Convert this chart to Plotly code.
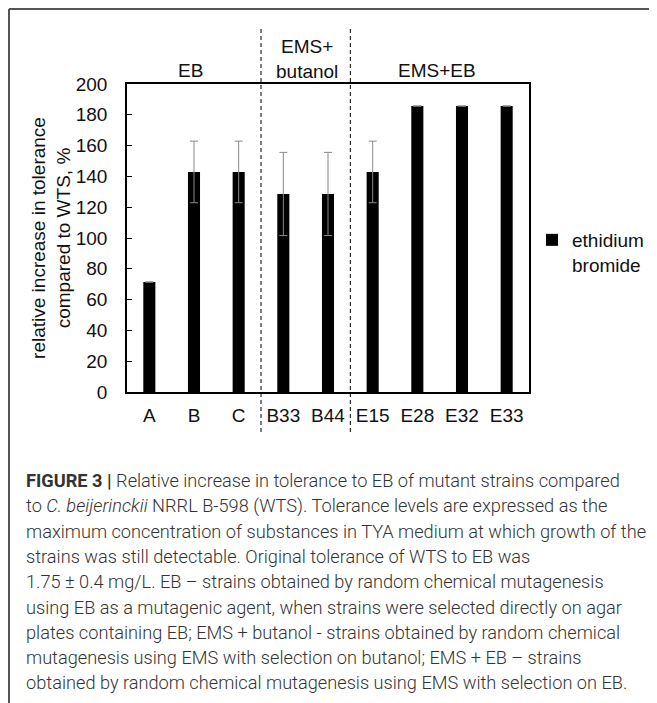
import plotly.graph_objects as go

categories = ["A", "B", "C", "B33", "B44", "E15", "E28", "E32", "E33"]
values = [71.4, 142.9, 142.9, 128.6, 128.6, 142.9, 185.7, 185.7, 185.7]
errors = [0, 20, 20, 27, 27, 20, 0, 0, 0]
series_name = "ethidium<br>bromide"
y_ticks = [0, 20, 40, 60, 80, 100, 120, 140, 160, 180, 200]
group_labels = ["EB", "EMS+<br>butanol", "EMS+EB"]
y_title = "relative increase in tolerance<br>compared to WTS, %"
caption_lines = [
    "<b>FIGURE 3 |</b> Relative increase in tolerance to EB of mutant strains compared",
    "to <i>C. beijerinckii</i> NRRL B-598 (WTS). Tolerance levels are expressed as the",
    "maximum concentration of substances in TYA medium at which growth of the",
    "strains was still detectable. Original tolerance of WTS to EB was",
    "1.75 \u00b1 0.4 mg/L. EB \u2013 strains obtained by random chemical mutagenesis",
    "using EB as a mutagenic agent, when strains were selected directly on agar",
    "plates containing EB; EMS + butanol - strains obtained by random chemical",
    "mutagenesis using EMS with selection on butanol; EMS + EB \u2013 strains",
    "obtained by random chemical mutagenesis using EMS with selection on EB.",
]

OFF = 8  # browser body margin
W, H = 657 - OFF, 703 - OFF
L, R, T, B = 127 - OFF, 529 - OFF, 84 - OFF, 392 - OFF


def px(x):
    return (x - OFF - L) / (R - L)


def py(y):
    return (B - (y - OFF)) / (B - T)


FONT = "Liberation Sans, Arial, sans-serif"
TXT = "#111"

fig = go.Figure()
fig.add_trace(go.Bar(
    x=categories, y=values, name=series_name,
    marker=dict(color="black", line=dict(width=0)),
    error_y=dict(type="data", array=errors, visible=True,
                 color="#8a8a8a", thickness=1, width=4),
    showlegend=True,
))

fig.update_layout(
    width=W, height=H,
    margin=dict(l=L, r=W - R, t=T, b=H - B, autoexpand=False),
    paper_bgcolor="white", plot_bgcolor="white",
    font=dict(family=FONT, size=19, color=TXT),
    bargap=0.73,
    showlegend=True,
    legend=dict(x=px(532), y=py(221), xanchor="left", yanchor="top",
                font=dict(size=19, family=FONT, color=TXT),
                valign="top", bgcolor="rgba(0,0,0,0)"),
)
fig.update_xaxes(
    type="category", range=[-0.5, 8.5],
    showline=True, mirror=True, linecolor="black", linewidth=1.5,
    ticks="", showgrid=False, ticklabelstandoff=5,
    tickfont=dict(size=19, family=FONT, color=TXT),
)
fig.update_yaxes(
    range=[0, 200], tickvals=y_ticks,
    showline=True, mirror=True, linecolor="black", linewidth=1.5,
    ticks="inside", ticklen=5, tickcolor="black", tickwidth=1, showgrid=False,
    ticklabelstandoff=14, zeroline=False,
    tickfont=dict(size=19, family=FONT, color=TXT),
    title=dict(text=y_title, font=dict(size=19, family=FONT, color=TXT), standoff=0),
)

# Group separators
for xb in [2.5, 4.5]:
    fig.add_shape(type="line", xref="x", yref="paper", x0=xb, x1=xb,
                  y0=py(432), y1=py(27),
                  line=dict(color="black", width=1, dash="4px,3px"))

# Group labels
group_pos = [(190, 70), (307, 59), (437, 70)]
for lab, (gx, gy) in zip(group_labels, group_pos):
    fig.add_annotation(text=lab, xref="paper", yref="paper", x=px(gx), y=py(gy),
                       xanchor="center", yanchor="middle", showarrow=False,
                       font=dict(size=19, family=FONT, color=TXT))

# Outer frame (top and left)
fig.add_shape(type="line", xref="paper", yref="paper", x0=px(9), x1=px(670),
              y0=py(9), y1=py(9), line=dict(color="#555", width=2))
fig.add_shape(type="line", xref="paper", yref="paper", x0=px(9), x1=px(9),
              y0=py(9), y1=py(720), line=dict(color="#555", width=2))

# Caption
for i, line in enumerate(caption_lines):
    fig.add_annotation(text=line, xref="paper", yref="paper",
                       x=px(24), y=py(481 + 25.2 * i),
                       xanchor="left", yanchor="middle", showarrow=False,
                       font=dict(size=18.2, family="Roboto, Liberation Sans, sans-serif",
                                 color="#333", weight=300))

fig.write_html("out.html")
